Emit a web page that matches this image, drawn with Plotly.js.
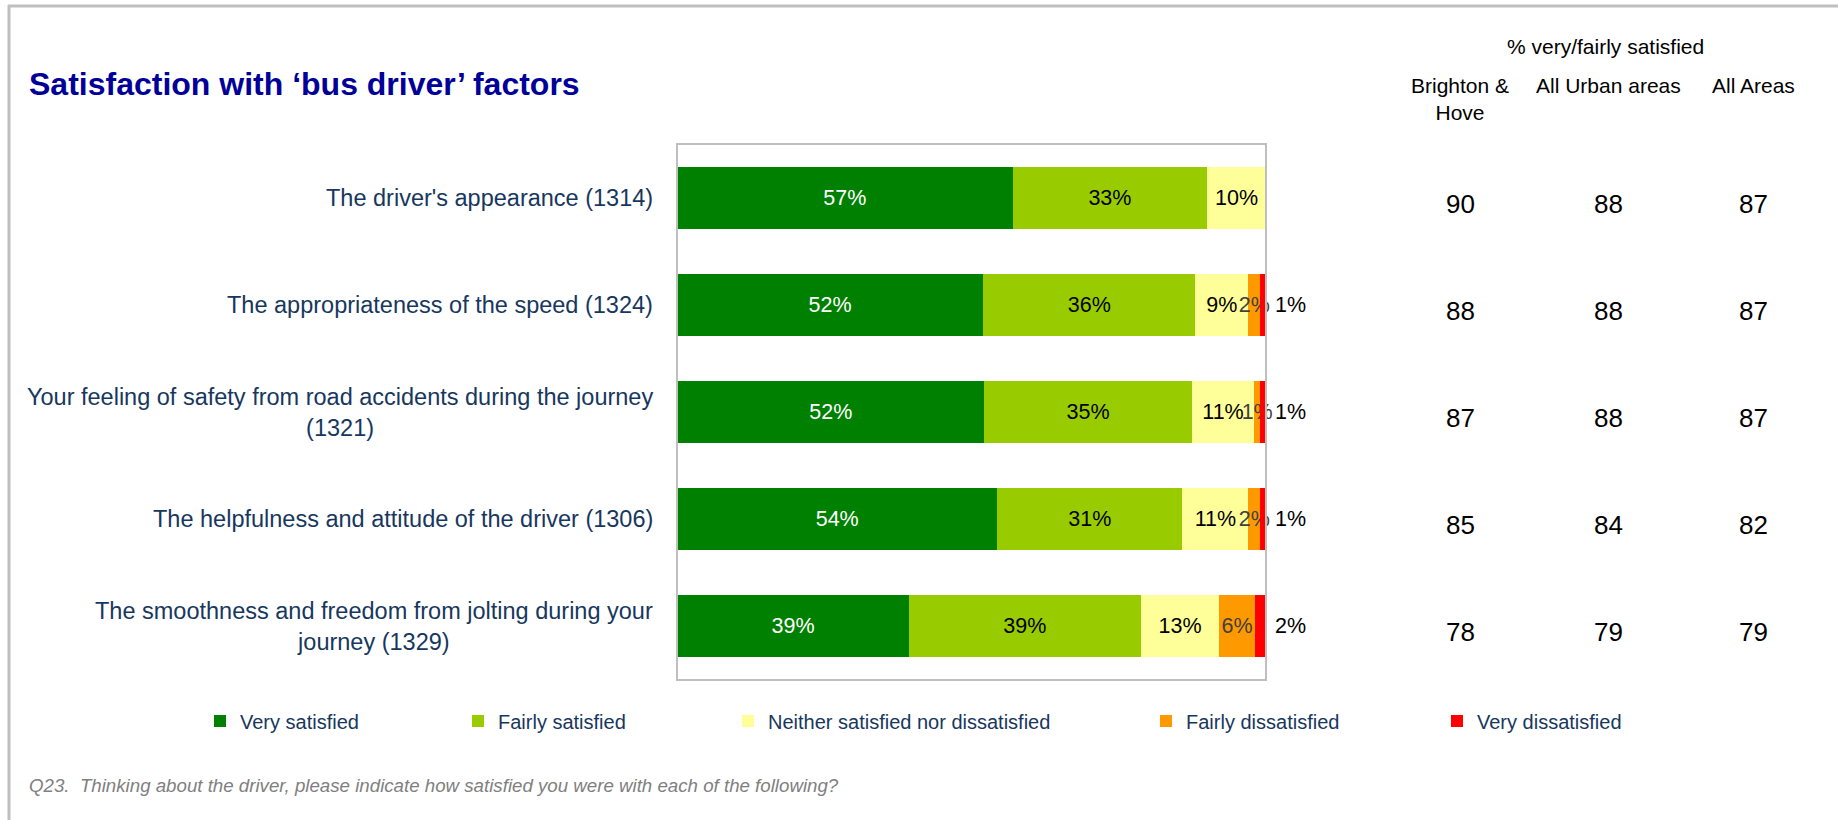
<!DOCTYPE html>
<html>
<head>
<meta charset="utf-8">
<script src="https://cdn.plot.ly/plotly-3.0.1.min.js"></script>
<style>
  html, body { margin: 0; padding: 0; background: #ffffff; }
  #chart { width: 1838px; height: 820px; }
</style>
</head>
<body>
<div id="chart"></div>
<script>
// ---------- data ----------
const categories = [
  "The driver's appearance (1314)",
  "The appropriateness of the speed (1324)",
  "Your feeling of safety from road accidents during the journey<br>(1321)",
  "The helpfulness and attitude of the driver (1306)",
  "The smoothness and freedom from jolting during your<br>journey (1329)"
];
const seriesNames = ["Very satisfied", "Fairly satisfied", "Neither satisfied nor dissatisfied", "Fairly dissatisfied", "Very dissatisfied"];
const verySatisfied      = [57, 52, 52.2, 54.4, 39.4];
const fairlySatisfied    = [33, 36, 35.2, 31.4, 39.3];
const neither            = [10, 9, 10.6, 11.2, 13.4];
const fairlyDissatisfied = [0, 2, 1.0, 2.0, 6.0];
const veryDissatisfied   = [0, 1, 1.0, 1.0, 1.9];

const tableTitle = "% very/fairly satisfied";
const columnHeaders = ["Brighton &<br>Hove", "All Urban areas", "All Areas"];
const brightonHove = [90, 88, 87, 85, 78];
const allUrban     = [88, 88, 88, 84, 79];
const allAreas     = [87, 87, 87, 82, 79];

const chartTitle = "Satisfaction with \u2018bus driver\u2019 factors";
const footnote = "Q23.  Thinking about the driver, please indicate how satisfied you were with each of the following?";

// ---------- styles ----------
const FONT = "Liberation Sans, Arial, sans-serif";
const colors = ["#008000", "#99CC00", "#FFFF99", "#FF9900", "#FF0000"];
const textColors = ["#FFFFFF", "#000000", "#000000", "#404040", "#000000"];
const legendCenters = [221, 479, 749, 1167, 1458];

const W = 1838, H = 820;
const PL = 677, PR = 1266, PT = 144, PB = 680;
const px2x = p => (p - PL) / (PR - PL);
const px2y = p => (PB - p) / (PB - PT);

const seriesValues = [verySatisfied, fairlySatisfied, neither, fairlyDissatisfied, veryDissatisfied];
const legendIds = ["legend", "legend2", "legend3", "legend4", "legend5"];

const traces = seriesValues.map((vals, i) => ({
  type: "bar",
  orientation: "h",
  name: seriesNames[i],
  y: categories,
  x: vals,
  marker: { color: colors[i], line: { width: 0 } },
  text: vals.map(v => v > 0 ? (i === 4 ? "\u00A0" : "") + Math.round(v) + "%" : ""),
  textposition: i === 4 ? "outside" : "inside",
  insidetextanchor: "middle",
  textangle: 0,
  constraintext: "none",
  cliponaxis: false,
  insidetextfont: { family: FONT, size: 21.5, color: textColors[i] },
  outsidetextfont: { family: FONT, size: 21.5, color: textColors[i] },
  hoverinfo: "skip",
  legend: legendIds[i],
  showlegend: true
}));

const annotations = [];
// title
annotations.push({
  xref: "paper", yref: "paper", x: px2x(27), y: px2y(84), xanchor: "left", yanchor: "middle",
  text: "<b>" + chartTitle + "</b>", showarrow: false,
  font: { family: FONT, size: 32, color: "#000099" }
});
// category labels
categories.forEach(c => {
  annotations.push({
    xref: "paper", yref: "y", x: 0, y: c, xanchor: "right", yanchor: "middle",
    xshift: -22, text: c, align: "center", showarrow: false,
    font: { family: FONT, size: 23.5, color: "#17375E" }
  });
});
// table header
annotations.push({
  xref: "paper", yref: "paper", x: px2x(1605), y: px2y(46), xanchor: "center", yanchor: "middle",
  text: tableTitle, showarrow: false, font: { family: FONT, size: 21, color: "#000000" }
});
const colX = [1460, 1608, 1753];
columnHeaders.forEach((h, j) => {
  annotations.push({
    xref: "paper", yref: "paper", x: px2x(colX[j]), y: px2y(72), xanchor: "center", yanchor: "top",
    text: h, align: "center", showarrow: false, font: { family: FONT, size: 21, color: "#000000" }
  });
});
[brightonHove, allUrban, allAreas].forEach((col, j) => {
  col.forEach((v, k) => {
    annotations.push({
      xref: "paper", yref: "y", x: px2x(colX[j]), y: categories[k], xanchor: "center", yanchor: "middle",
      yshift: -6, text: String(v), showarrow: false, font: { family: FONT, size: 26, color: "#000000" }
    });
  });
});
// footnote
annotations.push({
  xref: "paper", yref: "paper", x: px2x(27), y: px2y(785), xanchor: "left", yanchor: "middle",
  text: "<i>" + footnote + "</i>", showarrow: false, font: { family: FONT, size: 18.7, color: "#808080" }
});

const shapes = [
  // plot frame
  { type: "rect", xref: "paper", yref: "paper", x0: 0, x1: 1, y0: 0, y1: 1,
    line: { color: "#BFBFBF", width: 2 }, fillcolor: "rgba(0,0,0,0)", layer: "above" },
  // outer border (left and top)
  { type: "line", xref: "paper", yref: "paper", x0: px2x(9), x1: px2x(9), y0: px2y(5), y1: px2y(830),
    line: { color: "#BFBFBF", width: 3 } },
  { type: "line", xref: "paper", yref: "paper", x0: px2x(8), x1: px2x(1850), y0: px2y(6), y1: px2y(6),
    line: { color: "#BFBFBF", width: 3 } }
];

const layout = {
  width: W, height: H,
  margin: { l: PL, r: W - PR, t: PT, b: H - PB, pad: 0 },
  paper_bgcolor: "#FFFFFF", plot_bgcolor: "#FFFFFF",
  barmode: "stack",
  bargap: 0.42,
  font: { family: FONT },
  xaxis: { range: [0, 100], showticklabels: false, showgrid: false, zeroline: false, ticks: "", showline: false, fixedrange: true },
  yaxis: { type: "category", autorange: "reversed", showticklabels: false, showgrid: false, zeroline: false, ticks: "", showline: false, fixedrange: true },
  annotations: annotations,
  shapes: shapes
};
legendIds.forEach((id, i) => {
  layout[id] = {
    xref: "container", yref: "container",
    x: (legendCenters[i] - 21) / W, xanchor: "left",
    y: 1 - 721 / H, yanchor: "middle",
    orientation: "h", bgcolor: "rgba(0,0,0,0)", borderwidth: 0,
    font: { family: FONT, size: 20, color: "#17375E" }
  };
});

Plotly.newPlot("chart", traces, layout, { staticPlot: true, displayModeBar: false });
</script>
</body>
</html>
